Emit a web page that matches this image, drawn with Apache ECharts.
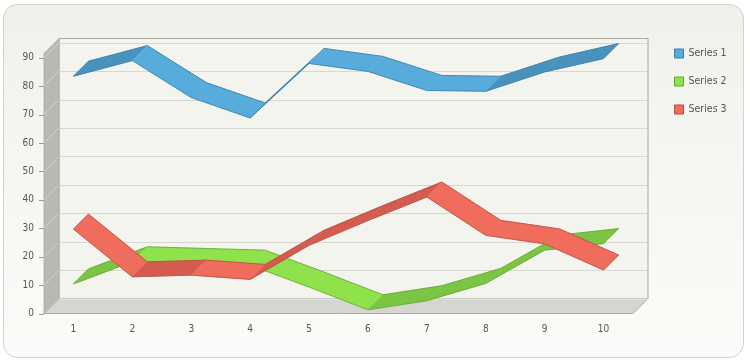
<!DOCTYPE html>
<html>
<head>
<meta charset="utf-8">
<script src="https://cdn.jsdelivr.net/npm/echarts@6/dist/echarts.min.js"></script>
<style>html,body{margin:0;padding:0;background:#fff}#c{width:750px;height:360px}</style>
</head>
<body>
<div id="c"></div>
<script>
const categories = ['1','2','3','4','5','6','7','8','9','10'];
const seriesNames = ['Series 1','Series 2','Series 3'];
const series1 = [83.5, 89.0, 76.0, 68.8, 88.0, 85.2, 78.5, 78.2, 85.0, 89.7];
const series2 = [10.4, 18.2, 17.6, 17.0, 9.3, 1.3, 4.5, 10.6, 22.3, 24.6];
const series3 = [29.7, 12.9, 13.5, 12.0, 24.0, 32.7, 41.0, 27.5, 24.5, 15.3];
const yTicks = [0,10,20,30,40,50,60,70,80,90];

const FONT = '"DejaVu Sans Condensed", "DejaVu Sans", sans-serif';
const D = 15; // depth offset in px
const palette = [
  {light:'#58acdc', dark:'#4a92be', edge:'#3a7ca6'},
  {light:'#90e24c', dark:'#7cc443', edge:'#62a634'},
  {light:'#f06c5c', dark:'#d45c4f', edge:'#b84c40'}
];
const allValues = [series1, series2, series3];

function wallsRender(params, api) {
  const cs = params.coordSys;
  const L = cs.x, T = cs.y, R = cs.x + cs.width, B = cs.y + cs.height;
  const ch = [];
  ch.push({type:'rect', shape:{x:L+D, y:T-D, width:R-L, height:B-T}, style:{fill:'#f4f4ef'}});
  yTicks.forEach(v => {
    const y = Math.round(api.coord([0, v])[1]) + 0.5;
    ch.push({type:'line', shape:{x1:L+D, y1:y-D, x2:R+D, y2:y-D}, style:{stroke:'#d8d8d3', lineWidth:1}});
  });
  ch.push({type:'polyline', shape:{points:[[L+D,B-D],[L+D,T-D],[R+D,T-D],[R+D,B-D]]}, style:{stroke:'#aaaaa4', fill:null, lineWidth:1}});
  ch.push({type:'polygon', shape:{points:[[L,T],[L+D,T-D],[L+D,B-D],[L,B]]}, style:{fill:'#b9b9b2', stroke:'#a8a8a1', lineWidth:0.8}});
  yTicks.forEach(v => {
    const y = api.coord([0, v])[1];
    ch.push({type:'line', shape:{x1:L, y1:y, x2:L+D, y2:y-D}, style:{stroke:'#d4d4ce', lineWidth:1}});
  });
  ch.push({type:'polygon', shape:{points:[[L,B],[R,B],[R+D,B-D],[L+D,B-D]]}, style:{fill:'#d6d6d1', stroke:'#a9a9a3', lineWidth:1}});
  ch.push({type:'line', shape:{x1:L+D, y1:B-D+0.5, x2:R+D, y2:B-D+0.5}, style:{stroke:'#ecece8', lineWidth:1}});
  yTicks.forEach(v => {
    const y = Math.round(api.coord([0, v])[1]) + 0.5;
    ch.push({type:'line', shape:{x1:L-5, y1:y, x2:L, y2:y}, style:{stroke:'#999', lineWidth:1}});
  });
  return {type:'group', children:ch};
}

function ribbonRender(si, n) {
  return function(params, api) {
    const i = api.value(0), a = api.value(1), b = api.value(2);
    const p1 = api.coord([i, a]);
    const p2 = api.coord([i + 1, b]);
    const q1 = [p1[0]+D, p1[1]-D], q2 = [p2[0]+D, p2[1]-D];
    const pal = palette[si];
    const ch = [
      {type:'polygon', shape:{points:[p1, p2, q2, q1]}, style:{fill: b > a ? pal.dark : pal.light, stroke: b > a ? pal.dark : pal.light, lineWidth:0.5}},
      {type:'line', shape:{x1:p1[0], y1:p1[1], x2:p2[0], y2:p2[1]}, style:{stroke:pal.edge, lineWidth:0.8}},
      {type:'line', shape:{x1:q1[0], y1:q1[1], x2:q2[0], y2:q2[1]}, style:{stroke:pal.edge, lineWidth:0.8}}
    ];
    if (i === 0) ch.push({type:'line', shape:{x1:p1[0], y1:p1[1], x2:q1[0], y2:q1[1]}, style:{stroke:pal.edge, lineWidth:0.8}});
    if (i === n - 2) ch.push({type:'line', shape:{x1:p2[0], y1:p2[1], x2:q2[0], y2:q2[1]}, style:{stroke:pal.edge, lineWidth:0.8}});
    return {type:'group', children:ch};
  };
}

function segData(vals) {
  const out = [];
  for (let i = 0; i < vals.length - 1; i++) out.push([i, vals[i], vals[i+1]]);
  return out;
}

const series = [{
  type:'custom', name:'walls', renderItem: wallsRender, data:[[0,0]], silent:true
}];
allValues.forEach((vals, si) => {
  series.push({
    type:'custom', name: seriesNames[si], renderItem: ribbonRender(si, vals.length), data: segData(vals),
    encode:{x:0, y:[1,2]}, silent:true,
    itemStyle:{color: palette[si].light, borderColor: palette[si].edge, borderWidth:1}
  });
});

const chart = echarts.init(document.getElementById('c'), null, {renderer:'canvas'});
chart.setOption({
  animation:false,
  backgroundColor:'#ffffff',
  graphic:[{
    type:'rect', z:-10, silent:true,
    shape:{x:3.5, y:4.5, width:740, height:353, r:14},
    style:{
      fill:{type:'linear', x:0, y:0, x2:0, y2:1, colorStops:[{offset:0,color:'#f1f1ec'},{offset:1,color:'#fbfbf9'}]},
      stroke:'#d2d2ce', lineWidth:1
    }
  }],
  grid:{left:44, right:117, top:53.5, bottom:46.5, containLabel:false},
  xAxis:{
    type:'category', data:categories, boundaryGap:true,
    axisLine:{show:false}, axisTick:{show:false}, splitLine:{show:false},
    axisLabel:{margin:11, color:'#555', fontFamily:FONT, fontSize:10}
  },
  yAxis:{
    type:'value', min:0, max:91.5, interval:10,
    axisLine:{show:false}, axisTick:{show:false}, splitLine:{show:false},
    axisLabel:{margin:10, color:'#555', fontFamily:FONT, fontSize:10,
      formatter: v => (yTicks.indexOf(v) >= 0 ? String(v) : '')}
  },
  legend:{
    orient:'vertical', left:669, top:42.5, itemWidth:9, itemHeight:9, itemGap:16,
    icon:'rect', selectedMode:false,
    data: seriesNames.map((n, i) => ({name:n, itemStyle:{color:palette[i].light, borderColor:palette[i].edge, borderWidth:1}})),
    textStyle:{color:'#555', fontFamily:FONT, fontSize:10.5, lineHeight:12}
  },
  series: series
});
</script>
</body>
</html>
